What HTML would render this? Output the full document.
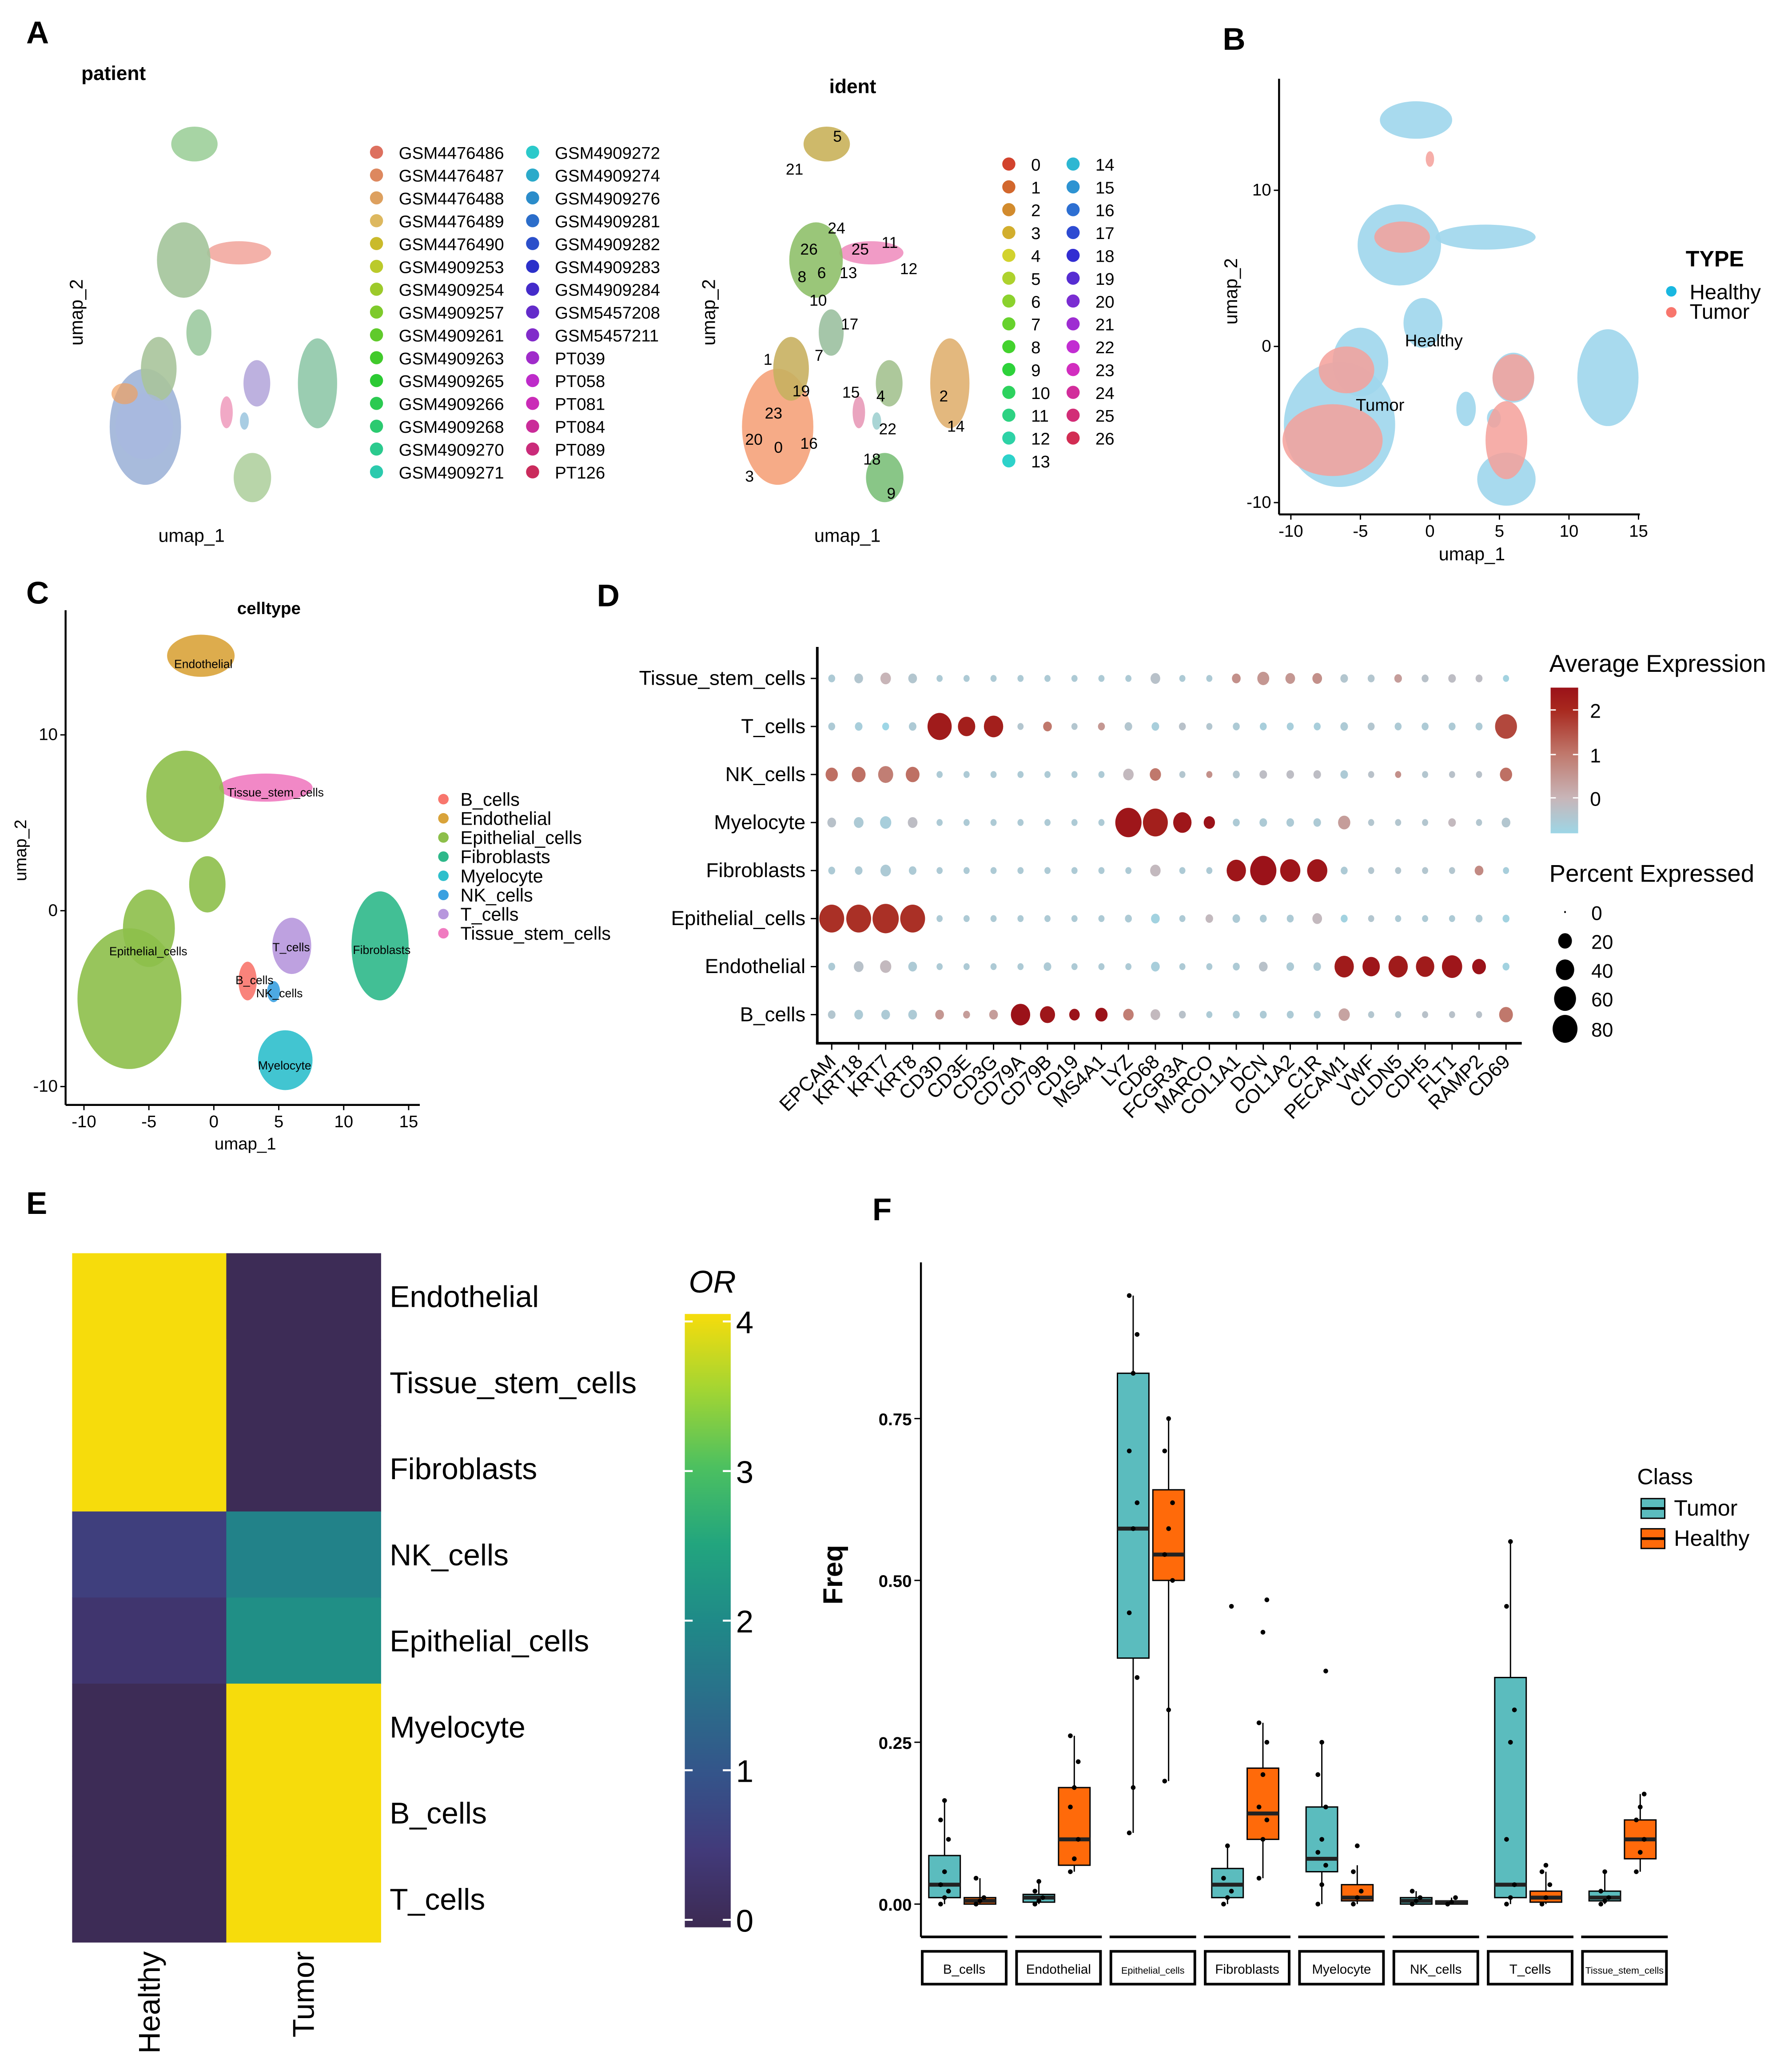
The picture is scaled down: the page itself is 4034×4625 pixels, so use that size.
<!DOCTYPE html>
<html><head><meta charset="utf-8"><style>
html,body{margin:0;padding:0;background:#fff}
svg{display:block}
text{font-family:"Liberation Sans",Arial,sans-serif}
</style></head><body>
<svg id="fig" width="4034" height="4625" viewBox="0 0 1366 1566" preserveAspectRatio="none" xmlns="http://www.w3.org/2000/svg">
<rect width="1366" height="1566" fill="#fff"/>
<g id="labels" font-weight="bold" font-size="24">
<text x="20" y="33">A</text>
<text x="932" y="38">B</text>
<text x="20" y="460">C</text>
<text x="455" y="462">D</text>
<text x="20" y="925">E</text>
<text x="665" y="930">F</text>
</g>
<g id="gA1"></g>
<g id="gA2"></g>
<g id="gB"></g>
<g id="gC"></g>
<g id="gD"></g>
<g id="gE"></g>
<g id="gF"></g>
</svg>
<script>
// ---------- data ----------
const genes = ["EPCAM","KRT18","KRT7","KRT8","CD3D","CD3E","CD3G","CD79A","CD79B","CD19","MS4A1","LYZ","CD68","FCGR3A","MARCO","COL1A1","DCN","COL1A2","C1R","PECAM1","VWF","CLDN5","CDH5","FLT1","RAMP2","CD69"];
const dotRows = ["Tissue_stem_cells","T_cells","NK_cells","Myelocyte","Fibroblasts","Epithelial_cells","Endothelial","B_cells"];
const pctTissue = [3,6,10,6,2,2,2,2,2,2,2,2,8,2,2,6,14,8,8,4,3,4,3,4,3,2];
const exprTissue = [-.5,-.4,0,-.4,-.5,-.5,-.5,-.5,-.5,-.5,-.5,-.5,-.3,-.5,-.5,.6,.5,.5,.6,-.4,-.4,.4,-.3,-.2,-.2,-.7];
const pctT = [3,4,3,4,75,35,45,2,6,2,3,4,4,3,2,3,3,3,3,4,3,3,3,3,3,60];
const exprT = [-.5,-.6,-.8,-.5,2.3,2.2,2.2,-.4,1,-.4,.5,-.4,-.6,-.3,-.4,-.5,-.6,-.6,-.6,-.5,-.4,-.5,-.5,-.5,-.5,1.6];
const pctNK = [15,20,25,20,2,2,2,2,2,2,2,10,12,2,2,3,4,4,4,4,2,2,2,2,2,15];
const exprNK = [1.1,1.1,.9,1.1,-.5,-.5,-.5,-.5,-.5,-.5,-.5,-.1,1,-.4,.6,-.4,-.2,-.2,-.2,-.5,-.3,.6,-.4,-.3,-.3,1.1];
const pctMy = [6,8,12,8,2,2,2,2,2,2,2,90,80,40,12,3,4,4,4,15,2,2,2,4,2,6];
const exprMy = [-.3,-.5,-.6,-.2,-.5,-.5,-.5,-.5,-.5,-.5,-.5,2.4,2.2,2.4,2.5,-.5,-.5,-.5,-.5,.4,-.4,-.4,-.4,-.1,-.4,-.4];
const pctFib = [3,4,10,4,2,2,2,2,2,2,2,2,10,2,2,45,90,50,50,3,2,2,2,2,6,2];
const exprFib = [-.5,-.5,-.5,-.5,-.5,-.5,-.5,-.5,-.5,-.5,-.5,-.5,-.1,-.5,-.5,2.4,2.5,2.4,2.4,-.5,-.4,-.4,-.4,-.4,.7,-.6];
const pctEpi = [80,80,90,80,2,2,2,2,2,2,2,3,6,2,4,4,3,3,8,3,2,2,2,2,3,3];
const exprEpi = [1.9,1.9,1.9,1.9,-.5,-.5,-.5,-.5,-.5,-.5,-.5,-.5,-.7,-.5,-.1,-.5,-.5,-.5,-.1,-.7,-.4,-.5,-.5,-.5,-.5,-.7];
const pctEndo = [3,8,12,6,2,2,2,2,4,2,2,2,6,2,2,3,6,4,4,45,35,45,40,50,20,3];
const exprEndo = [-.5,-.3,-.1,-.5,-.5,-.5,-.5,-.5,-.5,-.5,-.5,-.5,-.6,-.5,-.5,-.5,-.3,-.5,-.5,2.3,2.4,2.3,2.3,2.4,2.5,-.7];
const pctB = [4,6,6,6,6,3,6,45,25,10,15,10,8,3,2,3,3,3,3,12,2,2,2,2,2,20];
const exprB = [-.4,-.5,-.5,-.5,.5,.4,.4,2.5,2.4,2.5,2.5,.9,-.1,-.3,-.5,-.5,-.5,-.5,-.5,.3,-.4,-.4,-.3,-.3,-.3,1];
const dotPct = [pctTissue,pctT,pctNK,pctMy,pctFib,pctEpi,pctEndo,pctB];
const dotExpr = [exprTissue,exprT,exprNK,exprMy,exprFib,exprEpi,exprEndo,exprB];

const heatRows = ["Endothelial","Tissue_stem_cells","Fibroblasts","NK_cells","Epithelial_cells","Myelocyte","B_cells","T_cells"];
const heatCols = ["Healthy","Tumor"];
const orHealthy = [4,4,4,0.6,0.35,0.05,0.05,0.05];
const orTumor = [0.05,0.05,0.05,1.85,2.1,4,4,4];
const orTicks = [0,1,2,3,4];

const boxGroups = ["B_cells","Endothelial","Epithelial_cells","Fibroblasts","Myelocyte","NK_cells","T_cells","Tissue_stem_cells"];
// [whiskerLow, q1, median, q3, whiskerHigh]
const tumorStats = [[0,.01,.03,.075,.16],[0,.003,.01,.015,.035],[.11,.38,.58,.82,.94],[0,.01,.03,.055,.09],[0,.05,.07,.15,.25],[0,0,.005,.01,.02],[0,.01,.03,.35,.56],[0,.005,.01,.02,.05]];
const healthyStats = [[0,0,.005,.01,.04],[.05,.06,.1,.18,.26],[.19,.5,.54,.64,.75],[.04,.1,.14,.21,.28],[0,.005,.01,.03,.06],[0,0,.003,.005,.01],[0,.003,.01,.02,.05],[.05,.07,.1,.13,.17]];
const tumorPts = [[0,.01,.02,.03,.05,.1,.13,.16],[0,.005,.01,.02,.035],[.11,.18,.35,.45,.58,.62,.7,.82,.88,.94],[0,.01,.02,.04,.09,.46],[0,.03,.06,.08,.1,.15,.2,.25,.36],[0,.005,.01,.02],[0,.01,.03,.1,.25,.3,.46,.56],[0,.005,.01,.02,.05]];
const healthyPts = [[0,.005,.01,.04],[.05,.07,.1,.15,.18,.22,.26],[.19,.3,.5,.54,.58,.62,.7,.75],[.04,.1,.13,.15,.2,.25,.28,.42,.47],[0,.01,.02,.05,.09],[0,.003,.01],[0,.01,.03,.05,.06],[.05,.08,.1,.13,.15,.17]];
const freqTicks = [0,.25,.5,.75];

// ---------- helpers ----------
const NS="http://www.w3.org/2000/svg";
function mk(parent,tag,attrs,txt){const e=document.createElementNS(NS,tag);for(const k in attrs)e.setAttribute(k,attrs[k]);if(txt!==undefined)e.textContent=txt;parent.appendChild(e);return e;}
function lerp(a,b,t){return a+(b-a)*t}
function hex(c){return [parseInt(c.slice(1,3),16),parseInt(c.slice(3,5),16),parseInt(c.slice(5,7),16)]}
function grad(stops,v){
  if(v<=stops[0][0])return stops[0][1]; if(v>=stops[stops.length-1][0])return stops[stops.length-1][1];
  for(let i=0;i<stops.length-1;i++){const [a,ca]=stops[i],[b,cb]=stops[i+1];if(v>=a&&v<=b){const t=(v-a)/(b-a),x=hex(ca),y=hex(cb);return `rgb(${Math.round(lerp(x[0],y[0],t))},${Math.round(lerp(x[1],y[1],t))},${Math.round(lerp(x[2],y[2],t))})`;}}
}
const exprStops=[[-0.8,"#9dd6e6"],[0,"#c8b5b8"],[1,"#c0786c"],[2,"#a8281e"],[2.5,"#9b1219"]];
const viridis=[[0,"#3c2a52"],[0.5,"#423a7a"],[1,"#34548a"],[1.5,"#2a6f8a"],[2,"#1f8a88"],[2.5,"#22a57e"],[3,"#4cc060"],[3.5,"#a2d533"],[4,"#f6dc0c"]];

// ---------- UMAP blobs ----------
const blobs=[
 ["Endothelial",-1,14.5,2.6,1.2],["Tissue_stem_cells",4,7,3.6,0.8],["Epithelial_cells",-2.2,6.5,3,2.6],
 ["Epithelial_cells",-0.5,1.5,1.4,1.6],["Epithelial_cells",-6.5,-5,4,4],["Epithelial_cells",-5,-1,2,2.2],
 ["Fibroblasts",12.8,-2,2.2,3.1],["T_cells",6,-2,1.5,1.6],["B_cells",2.6,-4,0.7,1.1],["NK_cells",4.6,-4.6,0.5,0.6],["Myelocyte",5.5,-8.5,2.1,1.7]];
const ctColor={B_cells:"#f8766d",Endothelial:"#d9a33a",Epithelial_cells:"#8dbf4a",Fibroblasts:"#2eb88a",Myelocyte:"#2ebfcc",NK_cells:"#3aa0e0",T_cells:"#b797dd",Tissue_stem_cells:"#f07bc0"};
function drawBlobs(g,x0,y0,sx,sy,colorFn){
  blobs.forEach((b,i)=>{const e=mk(g,"ellipse",{cx:x0+b[1]*sx,cy:y0-b[2]*sy,rx:b[3]*sx,ry:b[4]*sy,fill:colorFn(b,i),opacity:0.9});
    
    });
}
const gA1=document.getElementById("gA1");
drawBlobs(gA1,155,270,6.8,11.05,(b,i)=>["#9dcf9a","#f2a8a0","#a3c49a","#9ccaa0","#9fb4d8","#a8c49b","#8fc8a8","#b6a8dc","#f0a0c0","#a0c8e0","#b0d0a0"][i]);
mk(gA1,"ellipse",{cx:110,cy:325,rx:22,ry:25,fill:"#a8b8e0",opacity:.7});
mk(gA1,"ellipse",{cx:95,cy:300,rx:10,ry:8,fill:"#f0a060",opacity:.7});
mk(gA1,"text",{x:62,y:61,"font-size":15,"font-weight":"bold"},"patient");
mk(gA1,"text",{x:146,y:413,"font-size":14,"text-anchor":"middle"},"umap_1");
mk(gA1,"text",{x:63,y:238,"font-size":14,"text-anchor":"middle",transform:"rotate(-90 63 238)"},"umap_2");
const patients=["GSM4476486","GSM4476487","GSM4476488","GSM4476489","GSM4476490","GSM4909253","GSM4909254","GSM4909257","GSM4909261","GSM4909263","GSM4909265","GSM4909266","GSM4909268","GSM4909270","GSM4909271","GSM4909272","GSM4909274","GSM4909276","GSM4909281","GSM4909282","GSM4909283","GSM4909284","GSM5457208","GSM5457211","PT039","PT058","PT081","PT084","PT089","PT126"];
patients.forEach((p,i)=>{const col=i<15?0:1,r=i%15;const x=col?406:287,y=120+r*17.4;
  const c=mk(gA1,"circle",{cx:x,cy:y-4,r:5,fill:`hsl(${(8+i*11.5)%360},65%,${i<4?62:48}%)`});
  
  
  const t=mk(gA1,"text",{x:x+17,y:y+1,"font-size":13},p);
  
  });
const gA2=document.getElementById("gA2");
drawBlobs(gA2,637,270,6.8,11.05,(b,i)=>["#c9b15a","#f090c0","#8fc06a","#9bc0a0","#f5a27a","#c8b060","#e0b070","#a4c290","#e89ab8","#a0d0d0","#7cc07a"][i]);
mk(gA2,"text",{x:650,y:71,"font-size":15,"font-weight":"bold","text-anchor":"middle"},"ident");
mk(gA2,"text",{x:646,y:413,"font-size":14,"text-anchor":"middle"},"umap_1");
mk(gA2,"text",{x:545,y:238,"font-size":14,"text-anchor":"middle",transform:"rotate(-90 545 238)"},"umap_2");
[["5",635,108],["21",599,133],["24",631,178],["26",610,194],["25",649,194],["11",672,189],["12",686,209],["8",608,215],["6",623,212],["13",640,212],["10",617,233],["17",641,251],["7",621,275],["1",582,278],["19",604,302],["15",642,303],["4",668,306],["2",716,306],["23",583,319],["22",670,331],["14",722,329],["20",568,339],["0",590,345],["16",610,342],["18",658,354],["3",568,367],["9",676,380]].forEach(l=>{
  const t=mk(gA2,"text",{x:l[1],y:l[2],"font-size":12},l[0]);
  
  });
for(let i=0;i<27;i++){const col=i<14?0:1,r=i<14?i:i-14;const x=col?818:769,y=129+r*17.4;
  const c=mk(gA2,"circle",{cx:x,cy:y-4,r:5,fill:`hsl(${(8+i*13)%360},65%,50%)`});
  
  
  const t=mk(gA2,"text",{x:x+17,y:y+1,"font-size":13},String(i));
  
  }

function umapAxes(g,x0,y0,sx,sy,left,top,right,bottom,xt,yt){
  mk(g,"line",{x1:left,y1:top,x2:left,y2:bottom,stroke:"#000","stroke-width":1.5});
  mk(g,"line",{x1:left,y1:bottom,x2:right,y2:bottom,stroke:"#000","stroke-width":1.5});
  xt.forEach(v=>{const x=x0+v*sx;mk(g,"line",{x1:x,y1:bottom,x2:x,y2:bottom+4,stroke:"#000"});mk(g,"text",{x:x,y:bottom+17,"font-size":13,"text-anchor":"middle"},String(v));});
  yt.forEach(v=>{const y=y0-v*sy;mk(g,"line",{x1:left-4,y1:y,x2:left,y2:y,stroke:"#000"});mk(g,"text",{x:left-6,y:y+4,"font-size":13,"text-anchor":"end"},String(v));});
}
const gB=document.getElementById("gB");
drawBlobs(gB,1090,264,10.6,11.9,()=>"#9fd6ec");
[[-7,-6,3.6,2.3],[-6,-1.5,2,1.5],[6,-2,1.5,1.5],[5.5,-6,1.5,2.5],[-2,7,2,1],[0,12,0.3,0.5]].forEach(b=>mk(gB,"ellipse",{cx:1090+b[0]*10.6,cy:264-b[1]*11.9,rx:b[2]*10.6,ry:b[3]*11.9,fill:"#f4a09a",opacity:.85}));
umapAxes(gB,1090,264,10.6,11.9,975,60,1250,392,[-10,-5,0,5,10,15],[10,0,-10]);
mk(gB,"text",{x:1122,y:427,"font-size":14,"text-anchor":"middle"},"umap_1");
mk(gB,"text",{x:943,y:222,"font-size":14,"text-anchor":"middle",transform:"rotate(-90 943 222)"},"umap_2");
mk(gB,"text",{x:1093,y:264,"font-size":13,"text-anchor":"middle"},"Healthy");
mk(gB,"text",{x:1052,y:313,"font-size":13,"text-anchor":"middle"},"Tumor");
mk(gB,"text",{x:1285,y:203,"font-size":17,"font-weight":"bold"},"TYPE");
mk(gB,"circle",{cx:1274,cy:222,r:4,fill:"#19b7e0"});mk(gB,"text",{x:1288,y:228,"font-size":16},"Healthy");
mk(gB,"circle",{cx:1274,cy:238,r:4,fill:"#f8766d"});mk(gB,"text",{x:1288,y:243,"font-size":16},"Tumor");

const gC=document.getElementById("gC");
drawBlobs(gC,163,694,9.9,13.4,b=>ctColor[b[0]]);
umapAxes(gC,163,694,9.9,13.4,50,465,320,842,[-10,-5,0,5,10,15],[10,0,-10]);
mk(gC,"text",{x:205,y:468,"font-size":13,"font-weight":"bold","text-anchor":"middle"},"celltype");
mk(gC,"text",{x:187,y:876,"font-size":13,"text-anchor":"middle"},"umap_1");
mk(gC,"text",{x:20,y:648,"font-size":13,"text-anchor":"middle",transform:"rotate(-90 20 648)"},"umap_2");
[["Endothelial",155,509],["Tissue_stem_cells",210,607],["Epithelial_cells",113,728],["T_cells",222,725],["Fibroblasts",291,727],["B_cells",194,750],["NK_cells",213,760],["Myelocyte",217,815]].forEach(l=>mk(gC,"text",{x:l[1],y:l[2],"font-size":9,"text-anchor":"middle"},l[0]));
Object.keys(ctColor).forEach((k,i)=>{const y=610+i*14.6;
  const c=mk(gC,"circle",{cx:338,cy:y-1,r:4,fill:ctColor[k]});
  
  
  const t=mk(gC,"text",{x:351,y:y+4,"font-size":14},k);
  
  });

// ---------- D ----------
const gD=document.getElementById("gD");
const dX=i=>634+i*20.56, dY=i=>517+i*36.6, dR=p=>1+9*Math.sqrt(p/90);
mk(gD,"line",{x1:623,y1:493,x2:623,y2:795,stroke:"#000","stroke-width":2});
mk(gD,"line",{x1:622,y1:795,x2:1160,y2:795,stroke:"#000","stroke-width":2});
dotRows.forEach((r,i)=>{mk(gD,"line",{x1:618,y1:dY(i),x2:623,y2:dY(i),stroke:"#000"});
  const t=mk(gD,"text",{x:614,y:dY(i)+5,"font-size":15.5,"text-anchor":"end"},r);
  
  });
genes.forEach((gname,j)=>{const x=dX(j);mk(gD,"line",{x1:x,y1:795,x2:x,y2:800,stroke:"#000"});
  const t=mk(gD,"text",{x:x+4,y:810,"font-size":15,"text-anchor":"end",transform:`rotate(-45 ${x+4} 810)`},gname);
  
  });
dotRows.forEach((r,i)=>genes.forEach((gname,j)=>{
  const c=mk(gD,"ellipse",{cx:dX(j),cy:dY(i),rx:dR(dotPct[i][j]),ry:dR(dotPct[i][j])*1.12,fill:grad(exprStops,dotExpr[i][j])});
  
  }));
mk(gD,"text",{x:1181,y:512,"font-size":18.5},"Average Expression");
const defs=mk(document.getElementById("fig"),"defs",{});
const lg=mk(defs,"linearGradient",{id:"exg",x1:0,y1:1,x2:0,y2:0});
exprStops.forEach(s=>mk(lg,"stop",{offset:((s[0]+0.8)/3.3),"stop-color":s[1]}));
mk(gD,"rect",{x:1182,y:524,width:21,height:111,fill:"url(#exg)"});
[[2,541],[1,575],[0,608]].forEach(t=>{mk(gD,"line",{x1:1182,y1:t[1],x2:1186,y2:t[1],stroke:"#fff"});mk(gD,"line",{x1:1199,y1:t[1],x2:1203,y2:t[1],stroke:"#fff"});mk(gD,"text",{x:1212,y:t[1]+6,"font-size":15},String(t[0]));});
mk(gD,"text",{x:1181,y:672,"font-size":18.5},"Percent Expressed");
[[0,695],[20,717],[40,739],[60,761],[80,784]].forEach(t=>{mk(gD,"ellipse",{cx:1193,cy:t[1],rx:dR(t[0])*(t[0]?1:0.7),ry:dR(t[0])*1.12*(t[0]?1:0.7),fill:"#000"});mk(gD,"text",{x:1213,y:t[1]+6,"font-size":15},String(t[0]));});

// ---------- E ----------
const gE=document.getElementById("gE");
const hx0=55,hcw=117.5,hy0=955,hrh=65.6;
heatRows.forEach((r,i)=>{[orHealthy[i],orTumor[i]].forEach((v,j)=>{
  const c=mk(gE,"rect",{x:hx0+j*hcw,y:hy0+i*hrh,width:hcw+0.5,height:hrh+0.5,fill:grad(viridis,v)});
  
  });
  const t=mk(gE,"text",{x:297,y:hy0+i*hrh+41,"font-size":23},r);
  
  });
heatCols.forEach((c,j)=>{const x=hx0+j*hcw+hcw/2+8;mk(gE,"text",{x:x,y:1487,"font-size":23,"text-anchor":"end",transform:`rotate(-90 ${x} 1487)`},c);});
const vg=mk(defs,"linearGradient",{id:"vir",x1:0,y1:1,x2:0,y2:0});
viridis.forEach(s=>mk(vg,"stop",{offset:s[0]/4,"stop-color":s[1]}));
const cbY=v=>1463-v*114;
mk(gE,"rect",{x:522,y:cbY(4.05),width:35,height:cbY(-0.05)-cbY(4.05),fill:"url(#vir)"});
orTicks.forEach(v=>{const y=cbY(v);mk(gE,"line",{x1:522,y1:y,x2:528,y2:y,stroke:"#fff","stroke-width":1.5});mk(gE,"line",{x1:551,y1:y,x2:557,y2:y,stroke:"#fff","stroke-width":1.5});mk(gE,"text",{x:561,y:y+9,"font-size":24},String(v));});
mk(gE,"text",{x:525,y:985,"font-size":24,"font-style":"italic"},"OR");

// ---------- F ----------
const gF=document.getElementById("gF");
const fy=v=>1451-v*493.3, fc=i=>735+i*71.9;
mk(gF,"line",{x1:702,y1:962,x2:702,y2:1476,stroke:"#000","stroke-width":1.5});
freqTicks.forEach(v=>{mk(gF,"line",{x1:697,y1:fy(v),x2:702,y2:fy(v),stroke:"#000"});mk(gF,"text",{x:695,y:fy(v)+5,"font-size":13,"font-weight":"bold","text-anchor":"end"},v.toFixed(2));});
mk(gF,"text",{x:642,y:1200,"font-size":21,"font-weight":"bold","text-anchor":"middle",transform:"rotate(-90 642 1200)"},"Freq");
function box(x,s,col,pts){
  mk(gF,"line",{x1:x,y1:fy(s[0]),x2:x,y2:fy(s[4]),stroke:"#000","stroke-width":1});
  const r=mk(gF,"rect",{x:x-12,y:fy(s[3]),width:24,height:Math.max(fy(s[1])-fy(s[3]),1),fill:col,stroke:"#000","stroke-width":1});
  
  
  mk(gF,"line",{x1:x-12,y1:fy(s[2]),x2:x+12,y2:fy(s[2]),stroke:"#222","stroke-width":3});
  pts.forEach((p,k)=>{const d=mk(gF,"circle",{cx:x+((k%3)-1)*3,cy:fy(p),r:1.8,fill:"#000"});
    
    });
}
boxGroups.forEach((gname,i)=>{const c=fc(i);
  box(c-15,tumorStats[i],"#5bbcbe",tumorPts[i]);
  box(c+12,healthyStats[i],"#ff6a0a",healthyPts[i]);
  mk(gF,"line",{x1:c-33,y1:1476,x2:c+33,y2:1476,stroke:"#000","stroke-width":2});
  const s=mk(gF,"rect",{x:c-32,y:1487,width:64,height:25,fill:"#fff",stroke:"#000","stroke-width":2});
  
  
  mk(gF,"text",{x:c,y:1504,"font-size":gname.length>14?7.3:(gname.length>12?8.5:10),"text-anchor":"middle"},gname);});
mk(gF,"text",{x:1248,y:1131,"font-size":17},"Class");
mk(gF,"rect",{x:1251,y:1142,width:18,height:15,fill:"#5bbcbe",stroke:"#000"});
mk(gF,"line",{x1:1251,y1:1149.5,x2:1269,y2:1149.5,stroke:"#000","stroke-width":2});
mk(gF,"text",{x:1276,y:1155,"font-size":17},"Tumor");
mk(gF,"rect",{x:1251,y:1165,width:18,height:15,fill:"#ff6a0a",stroke:"#000"});
mk(gF,"line",{x1:1251,y1:1172.5,x2:1269,y2:1172.5,stroke:"#000","stroke-width":2});
mk(gF,"text",{x:1276,y:1178,"font-size":17},"Healthy");
</script>
</body></html>
